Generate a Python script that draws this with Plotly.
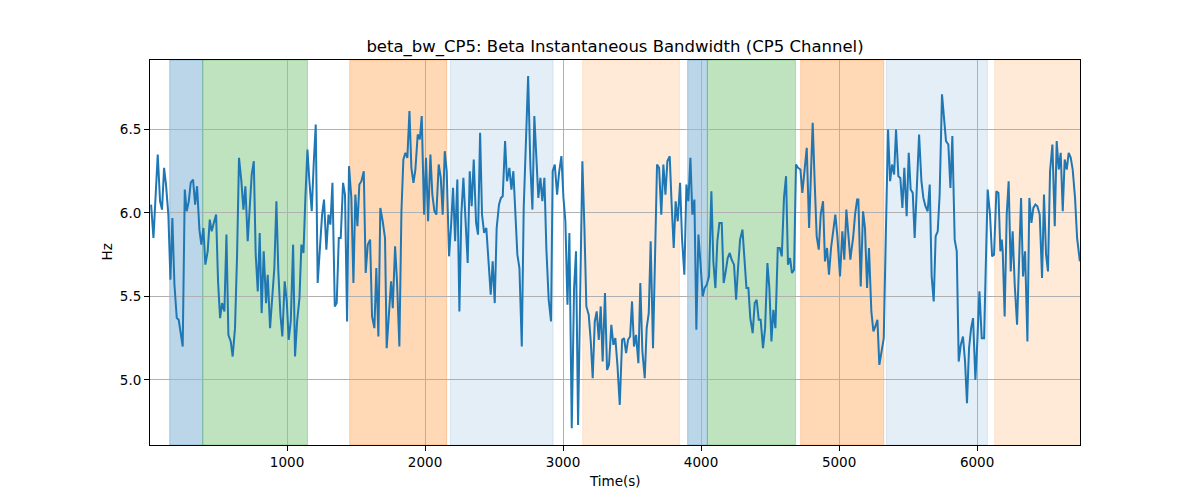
import plotly.graph_objects as go

time_s = [
    15, 32, 63, 80, 94, 109, 123, 140, 155, 169, 184, 201, 215, 227, 244, 259, 273, 288, 302, 319,
    334, 348, 365, 379, 394, 408, 425, 440, 454, 469, 486, 500, 515, 529, 546, 561, 575, 592, 606, 623,
    638, 652, 669, 684, 698, 715, 730, 744, 759, 773, 788, 802, 816, 831, 848, 860,
    877, 892, 908, 923, 937, 952, 966, 983, 998, 1012, 1027, 1044, 1058, 1073, 1090, 1104, 1119, 1133,
    1148, 1162, 1179, 1193, 1208, 1222, 1237, 1254, 1268, 1285, 1300, 1314, 1329, 1346, 1360, 1375,
    1389, 1406, 1420, 1435, 1449, 1466, 1481, 1495, 1510, 1524, 1539, 1556, 1570, 1585, 1602, 1616,
    1633, 1647, 1662, 1676, 1693,
    1710, 1722, 1739, 1754, 1766, 1783, 1797, 1814, 1829, 1843, 1858, 1872, 1887, 1901, 1916, 1930,
    1947, 1962, 1976, 1993, 2007, 2022, 2039, 2053, 2068, 2082, 2099, 2114, 2128, 2143, 2157, 2174,
    2189, 2203, 2218, 2234, 2249, 2263, 2278, 2295, 2309, 2324, 2338, 2353, 2370, 2384, 2399, 2413,
    2428, 2444, 2459, 2476, 2490, 2505, 2519, 2536,
    2550, 2563, 2580, 2594, 2611, 2626, 2640, 2655, 2669, 2684, 2701, 2715, 2732, 2747, 2763, 2778,
    2792, 2807, 2821, 2836, 2850, 2865, 2879, 2896, 2913, 2925, 2940, 2957, 2971, 2988, 3003, 3017,
    3032, 3046, 3063, 3080, 3094, 3109, 3126, 3140, 3155, 3169, 3186, 3201, 3215, 3230, 3244, 3259,
    3273, 3287, 3304, 3319, 3333, 3350, 3365, 3379, 3394,
    3411, 3428, 3442, 3457, 3471, 3486, 3500, 3514, 3529, 3546, 3560, 3575, 3592, 3606, 3621, 3635,
    3652, 3667, 3681, 3696, 3712, 3727, 3742, 3756, 3773, 3787, 3802, 3816, 3831, 3848, 3862, 3879,
    3894, 3908, 3923, 3937, 3952, 3966, 3981, 3995, 4012, 4026, 4041, 4058, 4075, 4089, 4104, 4118,
    4133, 4150, 4164, 4179, 4193, 4208, 4222, 4239,
    4254, 4268, 4283, 4300, 4314, 4329, 4343, 4357, 4374, 4389, 4403, 4418, 4432, 4449, 4464, 4481,
    4495, 4510, 4524, 4539, 4556, 4570, 4585, 4601, 4616, 4630, 4645, 4659, 4674, 4688, 4703, 4720,
    4734, 4751, 4766, 4783, 4795, 4809, 4824, 4838, 4853, 4867, 4884, 4898, 4913, 4927, 4942, 4956,
    4973, 4988, 5007, 5024, 5038, 5053, 5067, 5082,
    5089, 5102, 5116, 5131, 5140, 5157, 5174, 5188, 5203, 5217, 5234, 5249, 5263, 5278, 5292, 5309,
    5324, 5338, 5355, 5370, 5384, 5399, 5413, 5430, 5444, 5459, 5473, 5490, 5505, 5519, 5534, 5548,
    5563, 5580, 5597, 5611, 5626, 5642, 5657, 5671, 5686, 5700, 5715, 5729, 5746, 5761, 5775, 5792,
    5807, 5821, 5838, 5853, 5867, 5882, 5898, 5913, 5927, 5942,
    5957, 5971, 5988, 6002, 6017, 6034, 6051, 6063, 6077, 6094, 6109, 6123, 6140, 6155, 6169, 6179,
    6186, 6200, 6215, 6229, 6244, 6258, 6273, 6290, 6304, 6319, 6333, 6348, 6365, 6379, 6394, 6408,
    6423, 6437, 6454, 6471, 6485, 6500, 6514, 6529, 6546, 6563, 6577, 6592, 6606, 6621, 6635, 6650,
    6664, 6679, 6693, 6710, 6725, 6745,
]

bw_hz = [
    6.05, 5.85, 6.35, 6.07, 6.02, 6.27, 6.17, 5.99, 5.60, 5.97, 5.57, 5.37, 5.36, 5.29, 5.20, 6.14, 6.01, 6.07, 6.18, 6.20,
    6.05, 6.16, 5.90, 5.81, 5.91, 5.69, 5.77, 5.96, 5.89, 5.94, 5.99, 5.59, 5.37, 5.46, 5.41, 5.87, 5.27, 5.23, 5.14, 5.31,
    5.75, 6.33, 6.19, 6.02, 6.16, 5.83, 6.01, 6.23, 6.31, 5.75, 5.53, 5.88, 5.40, 5.77, 5.46, 5.63,
    5.31, 5.51, 5.67, 6.07, 5.65, 5.39, 5.26, 5.59, 5.47, 5.24, 5.35, 5.81, 5.14, 5.35, 5.49, 5.81, 5.76, 6.09,
    6.38, 6.19, 6.01, 6.29, 6.53, 5.58, 5.77, 5.99, 6.08, 5.78, 5.99, 5.93, 6.18, 5.44, 5.46, 5.85,
    5.85, 6.18, 6.11, 5.35, 6.28, 6.09, 5.58, 6.11, 5.92, 6.17, 6.19, 6.25, 5.64, 5.81, 5.84, 5.38,
    5.31, 5.67, 5.26, 6.03, 5.95,
    5.85, 5.19, 5.43, 5.59, 5.43, 5.80, 5.59, 5.20, 6.01, 6.32, 6.36, 6.33, 6.61, 6.27, 6.18, 6.26,
    6.47, 6.44, 6.58, 5.99, 6.33, 5.95, 6.35, 6.11, 6.01, 5.99, 6.29, 6.21, 5.99, 6.37, 6.25, 5.74,
    5.93, 6.15, 5.83, 6.20, 5.41, 5.99, 6.21, 5.89, 5.70, 6.25, 6.04, 6.32, 5.94, 5.87, 6.48, 5.99,
    5.88, 5.91, 5.71, 5.51, 5.71, 5.46, 5.91, 6.05,
    6.09, 6.10, 6.43, 6.19, 6.27, 6.14, 6.25, 5.97, 5.75, 5.67, 5.20, 6.03, 6.41, 6.82, 6.29, 6.02,
    6.58, 6.35, 6.09, 6.21, 6.07, 6.21, 5.79, 5.48, 5.35, 6.25, 6.29, 6.11, 6.24, 6.34, 6.09, 5.95,
    5.45, 5.88, 4.71, 5.55, 5.77, 4.73, 5.65, 6.31, 5.91, 5.44, 5.39, 5.23, 5.01, 5.35, 5.41, 5.24,
    5.44, 5.11, 5.52, 5.06, 5.09, 5.33, 5.21, 5.25, 5.09,
    4.85, 5.24, 5.25, 5.16, 5.24, 5.26, 5.47, 5.20, 5.27, 5.10, 5.58, 5.17, 5.01, 5.31, 5.40, 5.83,
    5.19, 5.75, 6.29, 6.27, 5.99, 6.29, 6.11, 6.31, 6.34, 6.05, 5.79, 6.07, 5.95, 6.18, 5.85, 5.63,
    6.17, 6.07, 6.33, 5.99, 6.08, 5.30, 5.87, 5.71, 5.50, 5.55, 5.57, 5.62, 6.13, 5.71, 5.55, 5.83,
    5.94, 5.94, 5.58, 5.65, 5.73, 5.76, 5.72, 5.69,
    5.48, 5.67, 5.84, 5.90, 5.75, 5.55, 5.55, 5.37, 5.28, 5.46, 5.48, 5.36, 5.36, 5.19, 5.31, 5.70,
    5.55, 5.23, 5.42, 5.31, 5.79, 5.79, 5.74, 6.09, 6.22, 5.69, 5.73, 5.64, 5.66, 6.29, 6.27, 6.26,
    6.12, 6.29, 6.39, 5.91, 6.23, 6.54, 6.17, 5.86, 5.78, 5.99, 6.07, 5.71, 5.79, 5.63, 5.79, 5.89,
    5.99, 5.86, 5.62, 5.89, 5.72, 6.02, 5.87, 5.72,
    5.77, 5.85, 5.99, 6.08, 6.08, 5.56, 6.01, 5.91, 5.55, 5.79, 5.41, 5.29, 5.32, 5.36, 5.09, 5.18,
    5.25, 5.83, 6.50, 6.19, 6.29, 6.23, 6.50, 6.22, 6.21, 6.03, 6.27, 5.98, 6.36, 6.14, 6.12, 5.85,
    6.11, 6.47, 6.19, 6.09, 6.04, 6.01, 6.17, 5.62, 5.47, 5.86, 5.89, 6.11, 6.71, 6.57, 6.43, 6.41,
    6.15, 6.46, 5.84, 5.77, 5.11, 5.21, 5.26, 5.11, 4.86, 5.19,
    5.31, 5.37, 5.00, 5.23, 5.53, 5.25, 5.25, 5.67, 6.14, 5.99, 5.74, 5.75, 6.13, 6.12, 5.77, 5.84,
    5.77, 5.38, 5.99, 6.19, 5.65, 5.89, 5.57, 5.33, 5.71, 6.09, 5.62, 5.77, 5.23, 6.09, 5.94, 6.03,
    6.05, 6.04, 5.99, 5.61, 6.11, 5.75, 5.65, 6.25, 6.41, 5.92, 6.43, 6.26, 6.36, 6.01, 6.32, 6.26,
    6.36, 6.33, 6.26, 6.09, 5.85, 5.71,
]

band_start = [150, 389, 1454, 2184, 3143, 3903, 4046, 4722, 5343, 6128]
band_end = [389, 1148, 2157, 2928, 3843, 4046, 4684, 5324, 6075, 6760]
band_color = [
    "rgba(31,119,180,0.30)", "rgba(44,160,44,0.30)", "rgba(255,127,14,0.30)",
    "rgba(31,119,180,0.12)", "rgba(255,127,14,0.16)",
    "rgba(31,119,180,0.30)", "rgba(44,160,44,0.30)", "rgba(255,127,14,0.30)",
    "rgba(31,119,180,0.12)", "rgba(255,127,14,0.16)",
]

x_ticks = [1000, 2000, 3000, 4000, 5000, 6000]
y_ticks = [5.0, 5.5, 6.0, 6.5]
y_tick_text = ["5.0", "5.5", "6.0", "6.5"]

fig = go.Figure()
fig.add_trace(go.Scatter(x=time_s, y=bw_hz, mode="lines",
                         line=dict(color="#1f77b4", width=2), showlegend=False))

for s, e, c in zip(band_start, band_end, band_color):
    fig.add_shape(type="rect", xref="x", yref="paper", x0=s, x1=e, y0=0, y1=1,
                  fillcolor=c, line=dict(width=1, color=c), layer="below")

axis_common = dict(showline=True, mirror=True, linecolor="black", linewidth=1,
                   ticks="outside", ticklen=5, tickcolor="black", tickwidth=1,
                   showgrid=True, gridcolor="#b0b0b0", gridwidth=1, zeroline=False,
                   tickfont=dict(family="DejaVu Sans", size=13.5, color="black"))

# page body adds an 8px offset; margins compensate so the plot area lands at
# x 150..1080, y 60..445 in the screenshot
fig.update_layout(
    width=1200, height=500,
    margin=dict(l=142, r=128, t=52, b=63),
    plot_bgcolor="white", paper_bgcolor="white",
    font=dict(family="DejaVu Sans", color="black"),
    title=dict(text="beta_bw_CP5: Beta Instantaneous Bandwidth (CP5 Channel)",
               x=0.5, xref="paper", xanchor="center",
               y=1 - 38 / 500, yref="container", yanchor="middle",
               font=dict(family="DejaVu Sans", size=16.5, color="black")),
    xaxis=dict(range=[7, 6746], tickvals=x_ticks, **axis_common),
    yaxis=dict(range=[4.61, 6.916], tickvals=y_ticks, ticktext=y_tick_text, **axis_common),
    annotations=[
        dict(text="Time(s)", xref="paper", yref="paper", x=0.5, y=-36 / 385,
             xanchor="center", yanchor="middle", showarrow=False,
             font=dict(family="DejaVu Sans", size=13.5, color="black")),
        dict(text="Hz", xref="paper", yref="paper", x=-44 / 930, y=0.5,
             xanchor="center", yanchor="middle", showarrow=False, textangle=-90,
             font=dict(family="DejaVu Sans", size=13.5, color="black")),
    ],
)

fig.write_html("out.html")
